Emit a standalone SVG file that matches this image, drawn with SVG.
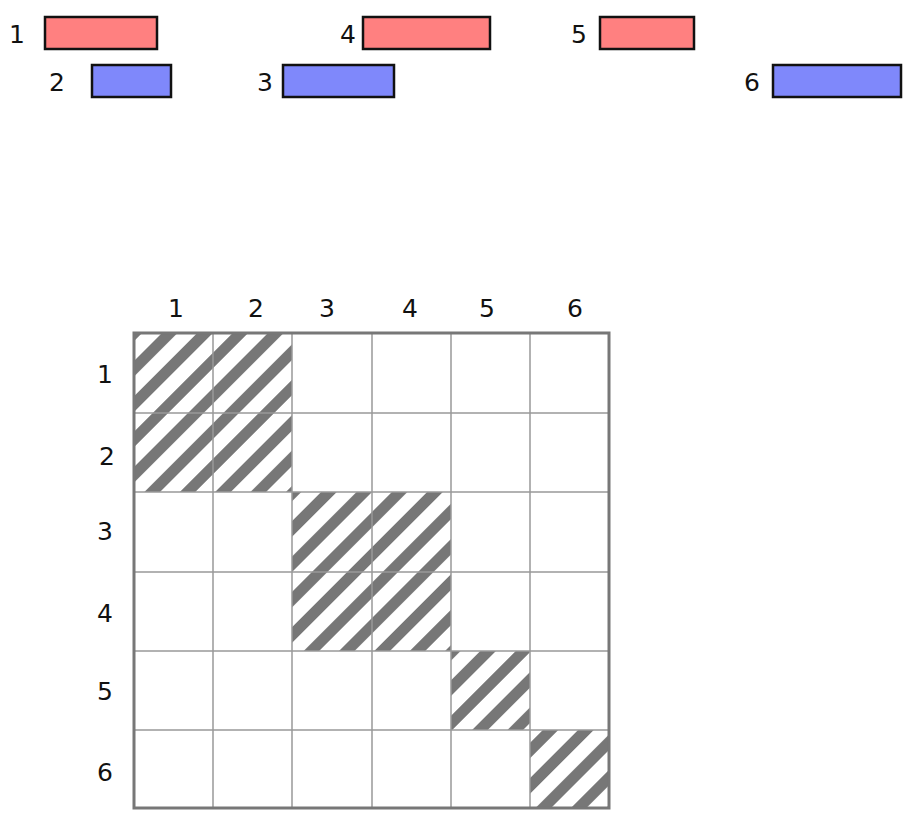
<svg xmlns="http://www.w3.org/2000/svg" width="918" height="828" viewBox="0 0 918 828">
<defs>
<pattern id="hatch" patternUnits="userSpaceOnUse" width="25" height="25" patternTransform="rotate(45)">
<rect x="0" y="0" width="11" height="25" fill="#777"/>
</pattern>
<style>
text{font-family:"DejaVu Sans",Verdana,sans-serif;font-size:25px;fill:#111;text-anchor:middle}
.red{fill:#ff8080;stroke:#111;stroke-width:2.5}
.blue{fill:#7f88fb;stroke:#111;stroke-width:2.5}
.grid{stroke:#999;stroke-width:1.5;fill:none}
.hatch{fill:url(#hatch)}
</style>
</defs>
<rect width="918" height="828" fill="#fff"/>
<g id="bar1"><rect class="red" x="45" y="17" width="112" height="32"/><text x="17" y="43">1</text></g>
<g id="bar2"><rect class="blue" x="92" y="65" width="79" height="32"/><text x="57" y="91">2</text></g>
<g id="bar3"><rect class="blue" x="283" y="65" width="111" height="32"/><text x="265" y="91">3</text></g>
<g id="bar4"><rect class="red" x="363" y="17" width="127" height="32"/><text x="348" y="43">4</text></g>
<g id="bar5"><rect class="red" x="600" y="17" width="94" height="32"/><text x="579" y="43">5</text></g>
<g id="bar6"><rect class="blue" x="773" y="65" width="128" height="32"/><text x="752" y="91">6</text></g>
<g id="matrix">
<rect class="hatch" x="134" y="333" width="158" height="159"/>
<rect class="hatch" x="292" y="492" width="159" height="159"/>
<rect class="hatch" x="451" y="651" width="79" height="79"/>
<rect class="hatch" x="530" y="730" width="79" height="78"/>
<path class="grid" d="M213 333V808M292 333V808M372 333V808M451 333V808M530 333V808M134 413H609M134 492H609M134 572H609M134 651H609M134 730H609"/>
<rect x="134" y="333" width="475" height="475" fill="none" stroke="#777" stroke-width="3"/>
</g>
<g id="col-labels">
<text x="176" y="317">1</text><text x="256" y="317">2</text><text x="327" y="317">3</text><text x="410" y="317">4</text><text x="487" y="317">5</text><text x="575" y="317">6</text>
</g>
<g id="row-labels">
<text x="105" y="383">1</text><text x="107" y="465">2</text><text x="105" y="540">3</text><text x="105" y="622">4</text><text x="105" y="700">5</text><text x="105" y="781">6</text>
</g>
</svg>
